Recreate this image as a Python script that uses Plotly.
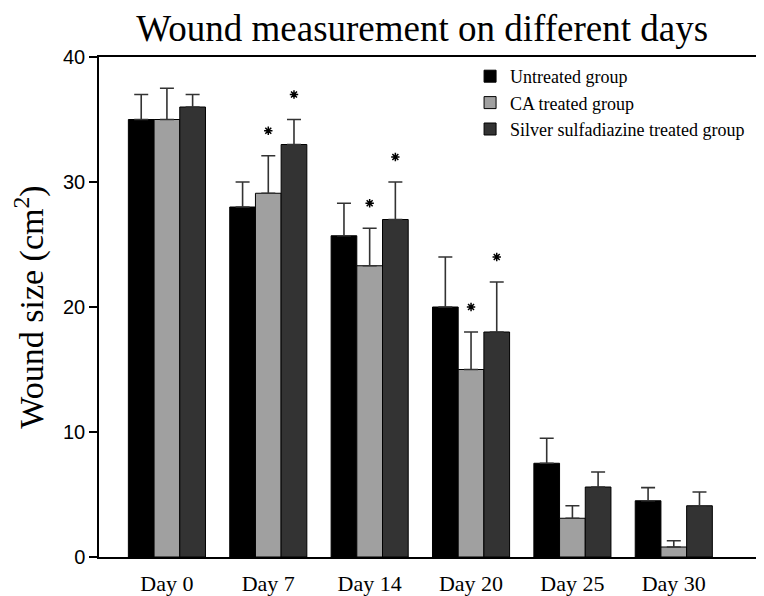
import plotly.graph_objects as go

days = ["Day 0", "Day 7", "Day 14", "Day 20", "Day 25", "Day 30"]
untreated = [35.0, 28.0, 25.7, 20.0, 7.5, 4.5]
untreated_err = [2.0, 2.0, 2.6, 4.0, 2.0, 1.05]
ca = [35.0, 29.1, 23.3, 15.0, 3.1, 0.8]
ca_err = [2.5, 3.0, 3.0, 3.0, 1.0, 0.5]
silver = [36.0, 33.0, 27.0, 18.0, 5.6, 4.1]
silver_err = [1.0, 2.0, 3.0, 4.0, 1.2, 1.1]
ca_sig = [False, True, True, True, False, False]
silver_sig = [False, True, True, True, False, False]

series = [
    ("Untreated group", untreated, untreated_err, None, "#000000"),
    ("CA treated group", ca, ca_err, ca_sig, "#a0a0a0"),
    ("Silver sulfadiazine treated group", silver, silver_err, silver_sig, "#333333"),
]

bw = 0.2535
serif = "Liberation Serif, Times New Roman, serif"
fig = go.Figure()
for k, (name, vals, errs, sig, col) in enumerate(series):
    xs = [i + (k - 1) * bw for i in range(len(days))]
    fig.add_trace(go.Bar(
        x=xs, y=vals, width=bw, name=name,
        marker=dict(color=col, line=dict(color="#000000", width=1)),
        error_y=dict(type="data", symmetric=False, array=errs,
                     arrayminus=[0] * len(errs), color="#333333",
                     thickness=1.6, width=7),
    ))
for k, (name, vals, errs, sig, col) in enumerate(series):
    if sig is None:
        continue
    sx, sy = [], []
    for i in range(len(days)):
        if sig[i]:
            sx.append(i + (k - 1) * bw)
            sy.append(vals[i] + errs[i] + 2.0)
    fig.add_trace(go.Scatter(
        x=sx, y=sy, mode="markers", showlegend=False, hoverinfo="skip",
        marker=dict(symbol="asterisk-open", size=7, color="#000000",
                    line=dict(color="#000000", width=1.5)),
    ))

fig.update_layout(
    width=756, height=588,
    margin=dict(l=91, r=0, t=49, b=32),
    paper_bgcolor="white", plot_bgcolor="white",
    barmode="overlay",
    title=dict(text="Wound measurement on different days",
               font=dict(family=serif, size=37, color="#000000"),
               x=0.486, xref="paper", xanchor="center",
               y=0.966, yref="container", yanchor="middle"),
    legend=dict(x=0.558, y=0.998, xanchor="left", yanchor="top",
                font=dict(family=serif, size=18, color="#000000"),
                bgcolor="rgba(0,0,0,0)", traceorder="normal",
                tracegroupgap=0),
    xaxis=dict(range=[-0.67, 5.89], tickmode="array",
               tickvals=list(range(len(days))), ticktext=days,
               showline=True, linecolor="#000000", linewidth=1.5,
               mirror=True, ticks="", showgrid=False, zeroline=False,
               ticklabelstandoff=6,
               tickfont=dict(family=serif, size=22, color="#000000")),
    yaxis=dict(range=[0, 40], tickvals=[0, 10, 20, 30, 40],
               showline=True, linecolor="#000000", linewidth=1.5,
               ticks="outside", ticklen=8, tickwidth=1.5, tickcolor="#000000",
               showgrid=False, zeroline=False,
               tickfont=dict(family="Liberation Sans, Arial, sans-serif",
                             size=20, color="#000000"),
               title=dict(text="Wound size (cm<sup>2</sup>)",
                          font=dict(family=serif, size=34, color="#000000"),
                          standoff=10)),
)

fig.write_html("out.html")
